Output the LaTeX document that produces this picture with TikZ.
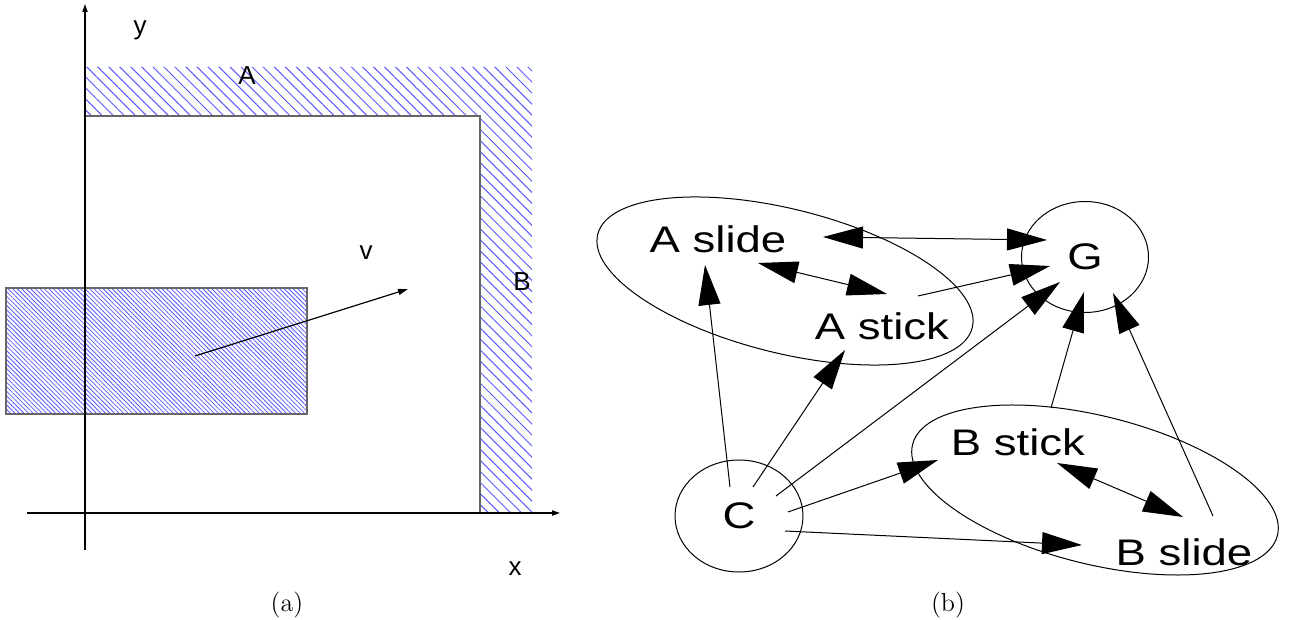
\documentclass[tikz,border=0pt]{standalone}
\usepackage{fontspec}
\usepackage{graphicx}
\newfontfamily\helv{Liberation Sans}
\usetikzlibrary{arrows.meta, calc, shapes.geometric, patterns.meta}
\newcommand{\lebar}[1]{\scalebox{1.23}[1]{#1}}

\begin{document}
\begin{tikzpicture}[
    x=0.5pt, y=-0.5pt,
    >={Triangle[length=20pt, width=11pt]},
    huruf/.style={font=\helv\fontsize{13}{15}\selectfont, inner sep=0pt},
    status/.style={font=\helv\fontsize{18.5}{22}\selectfont, inner sep=0pt},
    bulat/.style={status, draw, ellipse, line width=0.5pt},
    kelompok/.style={draw, ellipse, line width=0.5pt, rotate=-14, inner sep=0pt},
    arsir/.style={pattern={Lines[angle=-45, distance=3.9pt, line width=0.5pt]},
                  pattern color=blue!65},
    arsirrapat/.style={pattern={Lines[angle=-45, distance=1.6pt, line width=0.4pt]},
                  pattern color=blue!65, draw=black!60, line width=0.6pt},
    sumbu/.style={-{Triangle[length=4pt, width=2.6pt]}, line width=0.6pt},
    panah/.style={line width=0.5pt},
    judul/.style={font=\fontsize{13}{15}\selectfont, inner sep=0pt}
  ]
    \useasboundingbox (0,0) rectangle (1297,620);
    \path[arsir] (85,67) -- (532,67) -- (532,513) -- (480,513) -- (480,116)
      -- (85,116) -- cycle;
    \draw[black!60, line width=1pt] (85,116) -- (480,116) -- (480,513);
    \path[arsirrapat] (6,288) rectangle (307,414);
    \draw[sumbu] (27,513) -- (560,513);
    \draw[sumbu] (85,550) -- (85,4);
    \draw[sumbu, -{Triangle[length=5pt, width=3pt]}] (195,356) -- (408,289);
    \node[huruf] (ly) at (140,30)  {y};
    \node[huruf] (lx) at (515,569) {x};
    \node[huruf] (lA) at (247,76)  {A};
    \node[huruf] (lB) at (522,282) {B};
    \node[huruf] (lv) at (366,253) {v};
    \node[judul] (capa) at (287,605) {(a)};
    \node[judul] (capb) at (948,605) {(b)};
    \node[kelompok, minimum width=193pt, minimum height=72pt] (grpA) at (785,281) {};
    \node[kelompok, minimum width=188pt, minimum height=74pt] (grpB) at (1095,490) {};
    \node[status] (Aslide) at (718,239)  {\lebar{A slide}};
    \node[status] (Astick) at (882,326)  {\lebar{A stick}};
    \node[status] (Bstick) at (1018,442) {\lebar{B stick}};
    \node[status] (Bslide) at (1184,552) {\lebar{B slide}};
    \node[bulat, minimum width=64pt, minimum height=56pt]     (C) at (739,516)  {\lebar{C}};
    \node[bulat, minimum width=63.5pt, minimum height=55.5pt] (G) at (1085,257) {\lebar{G}};
    \draw[panah, ->] ($(C)+(-9,-29)$) -- ($(Aslide)+(-13,26)$);
    \draw[panah, ->] ($(C)+(14,-29)$) -- ($(Astick)+(-37,24)$);
    \draw[panah, ->] ($(C)+(37,-20)$) -- ($(G)+(-25,25)$);
    \draw[panah, ->] ($(C)+(49,-4)$)  -- ($(Bstick)+(-80,18)$);
    \draw[panah, ->] ($(C)+(46,15)$)  -- ($(Bslide)+(-102,-7)$);
    \draw[panah, <->] ($(Aslide)+(105,-2)$) -- ($(G)+(-38,-17)$);
    \draw[panah, <->] ($(Aslide)+(40,24)$)  -- ($(Astick)+(5,-32)$);
    \draw[panah, ->] ($(Astick)+(36,-30)$) -- ($(G)+(-35,9)$);
    \draw[panah, ->] ($(Bstick)+(33,-34)$) -- ($(G)+(-1,35)$);
    \draw[panah, ->] ($(Bslide)+(29,-36)$) -- ($(G)+(28,36)$);
    \draw[panah, <->] ($(Bstick)+(39,21)$) -- ($(Bslide)+(-1,-35)$);
  \end{tikzpicture}
\end{document}
